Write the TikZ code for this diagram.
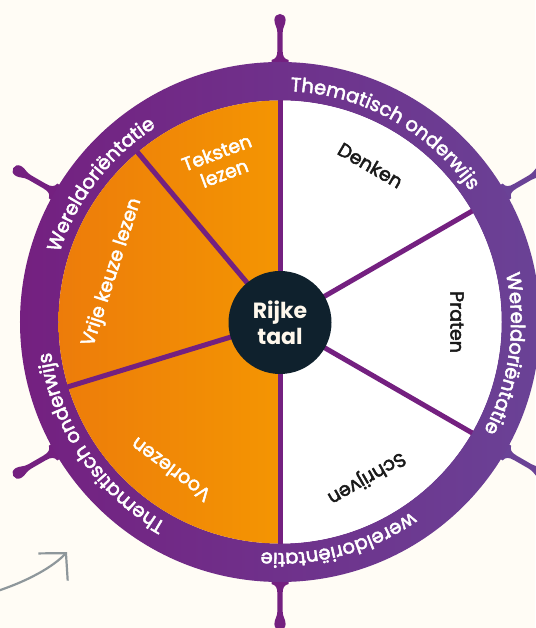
\documentclass[tikz,border=0pt]{standalone}
\usepackage{fontspec}
\setmainfont{Poppins}
\newfontfamily\mediumfont[FakeBold=2.5]{Poppins}
\usetikzlibrary{arrows.meta,decorations.text}
\definecolor{cream}{RGB}{255,252,245}
\definecolor{wheelL}{RGB}{116,32,128}
\definecolor{wheelR}{RGB}{106,66,150}
\definecolor{orangeL}{RGB}{237,124,10}
\definecolor{orangeR}{RGB}{244,149,2}
\definecolor{hubblue}{RGB}{15,33,45}
\definecolor{hubtext}{RGB}{255,248,236}
\definecolor{arrowgrey}{RGB}{142,151,155}
\definecolor{inkblack}{RGB}{26,26,26}
\newcommand\ringfont{\mediumfont\fontsize{19.5}{21}\selectfont}
\tikzset{
  x = 1pt,
  y = 1pt,
  spoke/.style={
    draw       = wheelL,
    line width = 5pt},
  segtext/.style={
    font      = \mediumfont\fontsize{19}{22}\selectfont,
    text      = inkblack,
    align     = center,
    inner sep = 0pt},
  ringtext/.style={
    decorate,
    decoration={
      text along path,
      text        = {|\ringfont|#1},
      text align  = center,
      text color  = white}}
}
% one handle of the wheel, pointing out at angle #1
\newcommand\wheelhandle[2]{%
  \fill[#2, rotate=#1-90]
    (-8.5,250) -- (-8.5,262)
    .. controls (-4,263) and (-2.6,266) .. (-2.6,272) -- (-2.6,289)
    .. controls (-2.6,295) and (-5.6,297) .. (-5.6,302)
    .. controls (-5.6,310) and (5.6,310) .. (5.6,302)
    .. controls (5.6,297) and (2.6,295) .. (2.6,289) -- (2.6,272)
    .. controls (2.6,266) and (4,263) .. (8.5,262) -- (8.5,250) -- cycle;}

\begin{document}
\begin{tikzpicture}

\path[use as bounding box, fill=cream] (-280,-306) rectangle (255,322);

% handles
\wheelhandle{90}{wheelL}
\wheelhandle{150}{wheelL}
\wheelhandle{210}{wheelL}
\wheelhandle{270}{wheelL}
\wheelhandle{30}{wheelR}
\wheelhandle{-30}{wheelR}

% rim
\shade[left color=wheelL, middle color=wheelL, right color=wheelR, even odd rule]
  (0,0) circle[radius=260] (0,0) circle[radius=221.5];

% segments
\shade[left color=orangeL, right color=orangeR]
  (0,0) -- (90:221.5) arc[start angle=90, end angle=270, radius=221.5] -- cycle;
\fill[white]
  (0,0) -- (90:221.5) arc[start angle=90, end angle=-90, radius=221.5] -- cycle;

\foreach \a/\n in {90/top, 30/ne, -30/se, -90/bottom, 130/nw, 197/sw}
  \coordinate (rim-\n) at (\a:222);
\foreach \n in {top, ne, se, bottom, nw, sw}
  \draw[spoke] (0,0) -- (rim-\n);

\node[circle, fill=hubblue, minimum size=103pt, inner sep=0pt,
      text=hubtext, align=center,
      font=\bfseries\fontsize{22}{26}\selectfont] (hub) at (0,-0.5) {Rijke\\taal};

\node[segtext, rotate=-30]  (denken)    at (60:181)    {Denken};
\node[segtext, rotate=-90]  (praten)    at (0:177)     {Praten};
\node[segtext, rotate=-150] (schrijven) at (-61:178)   {Schrijven};
\node[segtext, text=white, rotate=143.5] (voorlezen)  at (233.5:184) {Voorlezen};
\node[segtext, text=white, rotate=72]    (vrijekeuze) at (163.5:175) {Vrije keuze lezen};
\node[segtext, text=white, rotate=20.5]  (teksten)    at (110.5:170) {Teksten\\lezen};

% texts on the rim
\path[ringtext=Thematisch onderwijs] (101:231) arc[start angle=101, end angle=21, radius=231];
\path[ringtext=Wereldoriëntatie]     (182.5:231) arc[start angle=182.5, end angle=102.5, radius=231];
\path[ringtext=Wereldoriëntatie]     (32:231) arc[start angle=32, end angle=-48, radius=231];
\path[ringtext=wereldoriëntatie]     (-35:231) arc[start angle=-35, end angle=-115, radius=231];
\path[ringtext=Thematisch onderwijs] (254:231) arc[start angle=254, end angle=174, radius=231];

% arrow
\coordinate (arrowstart) at (-292,-272);
\coordinate (arrowtip)   at (-213,-230);
\draw[arrowgrey, line width=2.2pt, -{Straight Barb[length=19pt, width=40pt]}]
  (arrowstart) .. controls (-252,-260) and (-226,-244) .. (arrowtip);

\end{tikzpicture}
\end{document}
